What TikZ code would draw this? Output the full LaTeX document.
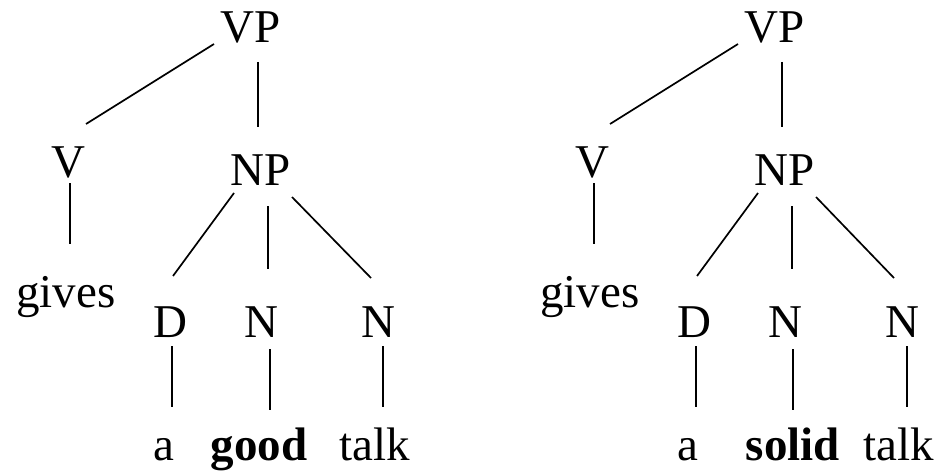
\documentclass[tikz,border=0pt]{standalone}
\usepackage{fontspec}
\setmainfont{Liberation Serif}
\tikzset{
  cat/.style={inner sep=0pt, anchor=base, font=\fontsize{47}{56}\selectfont},
  branch/.style={line width=1.7pt}
}
\begin{document}
\begin{tikzpicture}[x=1pt, y=-1pt]
  \useasboundingbox (0,0) rectangle (941,473);

  % Left tree
  \node[cat] (lvp) at (251,43) {VP};
  \node[cat] (lv) at (68,177) {V};
  \node[cat] (lnp) at (261,185) {NP};
  \node[cat] (lgives) at (66,307) {gives};
  \node[cat] (ld) at (170,337) {D};
  \node[cat] (ln) at (261,337) {N};
  \node[cat] (lnn) at (378,337) {N};
  \node[cat] (la) at (164,460) {a};
  \node[cat] (lgood) at (259,460) {\textbf{good}};
  \node[cat] (ltalk) at (375,460) {talk};

  \draw[branch] ([shift={(-37,1)}]lvp.base) -- ([shift={(18,-53)}]lv.base);
  \draw[branch] ([shift={(7,19)}]lvp.base) -- ([shift={(-3,-58)}]lnp.base);
  \draw[branch] ([shift={(2,6)}]lv.base) -- ([shift={(4,-63)}]lgives.base);
  \draw[branch] ([shift={(-27,8)}]lnp.base) -- ([shift={(3,-61)}]ld.base);
  \draw[branch] ([shift={(7,21)}]lnp.base) -- ([shift={(7,-68)}]ln.base);
  \draw[branch] ([shift={(31,12)}]lnp.base) -- ([shift={(-7,-59)}]lnn.base);
  \draw[branch] ([shift={(2,9)}]ld.base) -- ([shift={(8,-53)}]la.base);
  \draw[branch] ([shift={(9,12)}]ln.base) -- ([shift={(11,-50)}]lgood.base);
  \draw[branch] ([shift={(5,9)}]lnn.base) -- ([shift={(8,-53)}]ltalk.base);

  % Right tree
  \node[cat] (rvp) at (775,43) {VP};
  \node[cat] (rv) at (592,177) {V};
  \node[cat] (rnp) at (785,185) {NP};
  \node[cat] (rgives) at (590,307) {gives};
  \node[cat] (rd) at (694,337) {D};
  \node[cat] (rn) at (785,337) {N};
  \node[cat] (rnn) at (902,337) {N};
  \node[cat] (ra) at (688,460) {a};
  \node[cat] (rsolid) at (793,460) {\textbf{solid}};
  \node[cat] (rtalk) at (899,460) {talk};

  \draw[branch] ([shift={(-37,1)}]rvp.base) -- ([shift={(18,-53)}]rv.base);
  \draw[branch] ([shift={(7,19)}]rvp.base) -- ([shift={(-3,-58)}]rnp.base);
  \draw[branch] ([shift={(2,6)}]rv.base) -- ([shift={(4,-63)}]rgives.base);
  \draw[branch] ([shift={(-27,8)}]rnp.base) -- ([shift={(3,-61)}]rd.base);
  \draw[branch] ([shift={(7,21)}]rnp.base) -- ([shift={(7,-68)}]rn.base);
  \draw[branch] ([shift={(31,12)}]rnp.base) -- ([shift={(-8,-59)}]rnn.base);
  \draw[branch] ([shift={(2,9)}]rd.base) -- ([shift={(8,-53)}]ra.base);
  \draw[branch] ([shift={(8,12)}]rn.base) -- ([shift={(0,-50)}]rsolid.base);
  \draw[branch] ([shift={(5,9)}]rnn.base) -- ([shift={(8,-53)}]rtalk.base);
\end{tikzpicture}
\end{document}
